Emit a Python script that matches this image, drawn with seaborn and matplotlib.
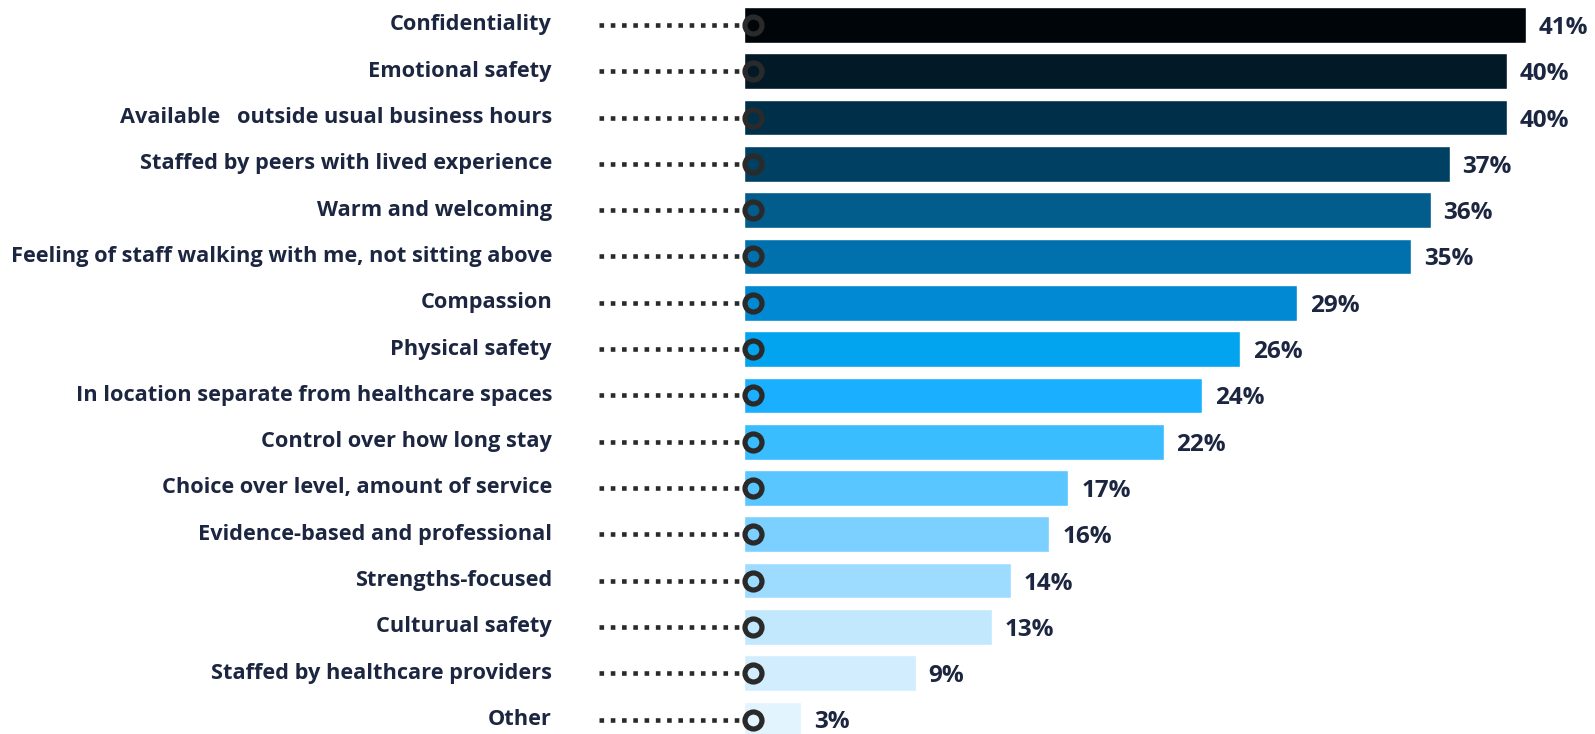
import matplotlib
matplotlib.use("Agg")
import matplotlib.pyplot as plt
import matplotlib.transforms as mtransforms
import pandas as pd
import seaborn as sns

# Survey results: share of respondents choosing each attribute
categories = [
    "Confidentiality",
    "Emotional safety",
    "Available   outside usual business hours",
    "Staffed by peers with lived experience",
    "Warm and welcoming",
    "Feeling of staff walking with me, not sitting above",
    "Compassion",
    "Physical safety",
    "In location separate from healthcare spaces",
    "Control over how long stay",
    "Choice over level, amount of service",
    "Evidence-based and professional",
    "Strengths-focused",
    "Culturual safety",
    "Staffed by healthcare providers",
    "Other",
]
values = [41, 40, 40, 37, 36, 35, 29, 26, 24, 22, 17, 16, 14, 13, 9, 3]
value_labels = [f"{v}%" for v in values]

bar_colors = [
    "#000509", "#021a28", "#003049", "#004062", "#025c8c", "#0171ae",
    "#018ad3", "#02a4ef", "#1ab0ff", "#39bdff", "#5ac6ff", "#7bd0ff",
    "#9edcff", "#c2e8fd", "#d2edfd", "#e2f4fd",
]

TEXT = "#1c2640"
INK = "#2a2a2a"
FONT = "Open Sans"

df = pd.DataFrame({"category": categories, "value": values})

sns.set_theme(style="white")
plt.rcParams["font.family"] = [FONT, "DejaVu Sans"]

W, H, DPI = 1595, 734, 100
fig = plt.figure(figsize=(W / DPI, H / DPI), dpi=DPI)
x0_px = 744
ax = fig.add_axes([x0_px / W, 0, 1 - x0_px / W, 1])

sns.barplot(
    data=df, x="value", y="category", hue="category",
    palette=bar_colors, orient="h", width=0.77,
    legend=False, ax=ax, saturation=1,
)

px_per_unit = 19.07
pitch_px = 46.3
first_center_px = 25
ax.set_xlim(0, (W - x0_px) / px_per_unit)
ax.set_ylim((H - first_center_px) / pitch_px, -first_center_px / pitch_px)
ax.axis("off")

# pixel offsets -> data offsets
dot_start = (599 - x0_px) / px_per_unit
label_right_px = 552
pt_per_px = 72 / DPI

for i, (cat, v, lab) in enumerate(zip(categories, values, value_labels)):
    # dotted leader line
    ax.plot([dot_start, 0], [i, i], color=INK, lw=4.6 * pt_per_px,
            linestyle=(0, (1, 1.45)), dash_capstyle="butt",
            clip_on=False, zorder=3)
    # ring marker at bar start
    ax.plot([9 / px_per_unit], [i], marker="o", markersize=17 * pt_per_px,
            mfc="none", mec=INK, mew=5.2 * pt_per_px, clip_on=False, zorder=4)
    # value label
    ax.text(v + 13 / px_per_unit, i + 3 / pitch_px, lab, ha="left", va="center",
            fontsize=17.5, fontweight="bold", color=TEXT, family=[FONT, "DejaVu Sans"],
            clip_on=False)

# category labels, right-aligned left of the leaders
trans = mtransforms.blended_transform_factory(fig.transFigure, ax.transData)
for i, cat in enumerate(categories):
    fig.text(label_right_px / W, 0, cat, transform=trans, ha="right", va="center",
             fontsize=15.7, fontweight="bold", color=TEXT,
             family=[FONT, "DejaVu Sans"]).set_y(i)

fig.savefig("out.png", dpi=DPI, facecolor="white")
